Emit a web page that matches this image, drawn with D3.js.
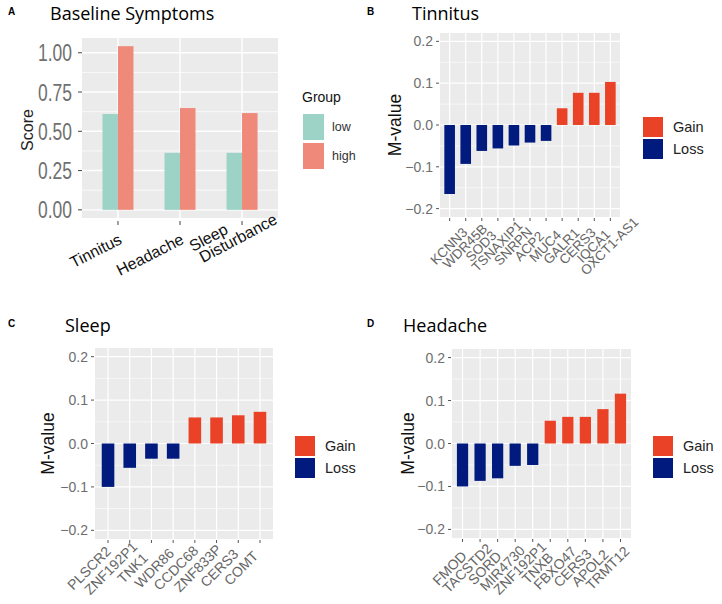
<!DOCTYPE html>
<html>
<head>
<meta charset="utf-8">
<script src="https://cdn.jsdelivr.net/npm/d3@7"></script>
<style>
  body { margin: 0; background: #fff; }
  svg { display: block; }
</style>
</head>
<body>
<svg id="chart" width="722" height="604"></svg>
<script>
// ---- data ----
const symptoms = ["Tinnitus", "Headache", "Sleep Disturbance"];
const groups = ["low", "high"];
const lowScores = [0.61, 0.363, 0.363];
const highScores = [1.042, 0.648, 0.616];
const scoreTicks = [0, 0.25, 0.5, 0.75, 1.0];

const tinnitusGenes = ["KCNN3", "WDR45B", "SOD3", "TSNAXIP1", "SNRPN", "ACP2", "MUC4", "GALR1", "CERS3", "IQCA1", "OXCT1-AS1"];
const tinnitusM = [-0.165, -0.093, -0.062, -0.056, -0.049, -0.042, -0.038, 0.040, 0.077, 0.077, 0.103];

const sleepGenes = ["PLSCR2", "ZNF192P1", "TNK1", "WDR86", "CCDC68", "ZNF833P", "CERS3", "COMT"];
const sleepM = [-0.100, -0.056, -0.035, -0.035, 0.060, 0.060, 0.065, 0.073];

const headacheGenes = ["FMOD", "TACSTD2", "SORD", "MIR4730", "ZNF192P1", "TNXB", "FBXO47", "CERS3", "APOL2", "TRMT12"];
const headacheM = [-0.100, -0.087, -0.081, -0.052, -0.050, 0.053, 0.062, 0.062, 0.080, 0.116];

const mTicks = [-0.2, -0.1, 0.0, 0.1, 0.2];
const mMinor = [-0.15, -0.05, 0.05, 0.15];

const groupColor = { low: "#9dd3c7", high: "#ef8a7a" };
const changeColor = { Gain: "#ea4226", Loss: "#001a7e" };

const svg = d3.select("#chart");
const font = "'Liberation Sans', Arial, sans-serif";
const titleFont = "'Open Sans', 'Liberation Sans', sans-serif";

function panelHeader(letter, title, lx, tx, y) {
  svg.append("text")
    .attr("x", lx).attr("y", y - 5)
    .attr("font-family", font).attr("font-weight", "bold")
    .attr("font-size", 10).attr("fill", "#000")
    .text(letter);
  svg.append("text")
    .attr("x", tx).attr("y", y)
    .attr("font-family", titleFont)
    .attr("font-size", 18).attr("fill", "#000")
    .text(title);
}

// ---- panel A ----
(function () {
  const left = 82, right = 278, top = 38, bottom = 218;
  const x = d3.scalePoint().domain(symptoms).range([left, right]).padding(0.58);
  const xg = d3.scaleBand().domain(groups).range([-15.5, 15.5]);
  const y = d3.scaleLinear().domain([-0.052, 1.094]).range([bottom, top]);
  const g = svg.append("g");

  g.append("rect").attr("x", left).attr("y", top)
    .attr("width", right - left).attr("height", bottom - top).attr("fill", "#ebebeb");

  const minor = scoreTicks.slice(0, -1).map(d => d + 0.125);
  g.selectAll(".minor").data(minor).join("line")
    .attr("x1", left).attr("x2", right)
    .attr("y1", d => y(d)).attr("y2", d => y(d))
    .attr("stroke", "#fff").attr("stroke-width", 0.7);
  g.selectAll(".major").data(scoreTicks).join("line")
    .attr("x1", left).attr("x2", right)
    .attr("y1", d => y(d)).attr("y2", d => y(d))
    .attr("stroke", "#fff").attr("stroke-width", 1.4);
  g.selectAll(".vmajor").data(symptoms).join("line")
    .attr("x1", d => x(d)).attr("x2", d => x(d))
    .attr("y1", top).attr("y2", bottom)
    .attr("stroke", "#fff").attr("stroke-width", 1.4);

  const rows = symptoms.flatMap((s, i) => [
    { s, grp: "low", v: lowScores[i] },
    { s, grp: "high", v: highScores[i] }
  ]);
  g.selectAll(".bar").data(rows).join("rect")
    .attr("x", d => x(d.s) + xg(d.grp))
    .attr("width", xg.bandwidth())
    .attr("y", d => y(d.v))
    .attr("height", d => y(0) - y(d.v))
    .attr("fill", d => groupColor[d.grp]);

  // y axis
  g.selectAll(".yt").data(scoreTicks).join("line")
    .attr("x1", left - 4).attr("x2", left)
    .attr("y1", d => y(d)).attr("y2", d => y(d))
    .attr("stroke", "#444").attr("stroke-width", 1);
  g.selectAll(".yl").data(scoreTicks).join("text")
    .attr("x", left - 10).attr("y", d => y(d) + 8.5)
    .attr("text-anchor", "end")
    .attr("font-family", font).attr("font-size", 24)
    .attr("textLength", 34).attr("lengthAdjust", "spacingAndGlyphs")
    .attr("fill", "#707070")
    .text(d => d3.format(".2f")(d));

  // x axis
  g.selectAll(".xt").data(symptoms).join("line")
    .attr("x1", d => x(d)).attr("x2", d => x(d))
    .attr("y1", bottom + 3).attr("y2", bottom + 7)
    .attr("stroke", "#444");
  symptoms.forEach(s => {
    const parts = s.split(" ");
    if (parts.length === 1) {
      g.append("text")
        .attr("transform", `translate(${x(s) + 5},${bottom + 25}) rotate(-27)`)
        .attr("text-anchor", "end")
        .attr("font-family", font).attr("font-size", 16).attr("fill", "#111")
        .text(s);
    } else {
      g.append("text")
        .attr("transform", `translate(${x(s) - 49},${bottom + 34}) rotate(-28)`)
        .attr("font-family", font).attr("font-size", 16).attr("fill", "#111")
        .text(parts[0]);
      g.append("text")
        .attr("transform", `translate(${x(s) - 39},${bottom + 45}) rotate(-28)`)
        .attr("font-family", font).attr("font-size", 16).attr("fill", "#111")
        .text(parts[1]);
    }
  });

  g.append("text")
    .attr("transform", `translate(33,${(top + bottom) / 2 + 2}) rotate(-90)`)
    .attr("text-anchor", "middle")
    .attr("font-family", font).attr("font-size", 16).attr("fill", "#222")
    .text("Score");

  // legend
  g.append("text").attr("x", 302).attr("y", 102)
    .attr("font-family", font).attr("font-size", 14).attr("fill", "#111")
    .text("Group");
  groups.forEach((grp, i) => {
    g.append("rect").attr("x", 303).attr("y", 114 + i * 29)
      .attr("width", 21).attr("height", 26).attr("fill", groupColor[grp]);
    g.append("text").attr("x", 332).attr("y", 131 + i * 29)
      .attr("font-family", font).attr("font-size", 12.5).attr("fill", "#333")
      .text(grp);
  });

  panelHeader("A", "Baseline Symptoms", 8, 50, 20);
})();

// ---- M-value panels ----
function drawMPanel(cfg) {
  const { left, right, top, bottom, genes, values } = cfg;
  const x = d3.scalePoint().domain(genes).range([left, right]).padding(0.6);
  const y = d3.scaleLinear().domain([-0.22, 0.22]).range([bottom, top]);
  const bw = x.step() * cfg.barWidth;
  const g = svg.append("g");

  g.append("rect").attr("x", left).attr("y", top)
    .attr("width", right - left).attr("height", bottom - top).attr("fill", "#ebebeb");
  g.selectAll(".minor").data(mMinor).join("line")
    .attr("x1", left).attr("x2", right)
    .attr("y1", d => y(d)).attr("y2", d => y(d))
    .attr("stroke", "#fff").attr("stroke-width", 0.6);
  g.selectAll(".major").data(mTicks).join("line")
    .attr("x1", left).attr("x2", right)
    .attr("y1", d => y(d)).attr("y2", d => y(d))
    .attr("stroke", "#fff").attr("stroke-width", 1.2);
  g.selectAll(".vmajor").data(genes).join("line")
    .attr("x1", d => x(d)).attr("x2", d => x(d))
    .attr("y1", top).attr("y2", bottom)
    .attr("stroke", "#fff").attr("stroke-width", 1.2);

  const rows = genes.map((gene, i) => ({ gene, v: values[i], c: values[i] >= 0 ? "Gain" : "Loss" }));
  g.selectAll(".bar").data(rows).join("rect")
    .attr("x", d => x(d.gene) - bw / 2)
    .attr("width", bw)
    .attr("y", d => y(Math.max(0, d.v)))
    .attr("height", d => Math.abs(y(d.v) - y(0)))
    .attr("fill", d => changeColor[d.c]);

  // y axis
  g.selectAll(".yt").data(mTicks).join("line")
    .attr("x1", left - 4).attr("x2", left - 1)
    .attr("y1", d => y(d)).attr("y2", d => y(d))
    .attr("stroke", "#555");
  g.selectAll(".yl").data(mTicks).join("text")
    .attr("x", left - 7).attr("y", d => y(d) + 5)
    .attr("text-anchor", "end")
    .attr("font-family", font).attr("font-size", 14).attr("fill", "#6e6e6e")
    .text(d => d3.format(".1f")(d));

  // x axis - labels hang centred a little off their ticks, as in the figure
  g.selectAll(".xt").data(genes).join("line")
    .attr("x1", d => x(d)).attr("x2", d => x(d))
    .attr("y1", bottom + 1).attr("y2", bottom + 4)
    .attr("stroke", "#555");
  g.selectAll(".xl").data(genes).join("text")
    .attr("transform", d => `translate(${x(d) + cfg.labelDx},${cfg.labelCy}) rotate(-45)`)
    .attr("text-anchor", "middle")
    .attr("dy", "0.36em")
    .attr("font-family", font).attr("font-size", cfg.labelSize).attr("fill", "#666")
    .text(d => d);

  g.append("text")
    .attr("transform", `translate(${cfg.titleX},${(top + bottom) / 2}) rotate(-90)`)
    .attr("text-anchor", "middle")
    .attr("font-family", font).attr("font-size", 17.5).attr("fill", "#111")
    .text("M-value");

  // legend
  ["Gain", "Loss"].forEach((k, i) => {
    g.append("rect").attr("x", cfg.legendX).attr("y", cfg.legendY + i * 22)
      .attr("width", 20).attr("height", 20).attr("fill", changeColor[k]);
    g.append("text").attr("x", cfg.legendX + 30).attr("y", cfg.legendY + 15 + i * 22)
      .attr("font-family", font).attr("font-size", 14.5).attr("fill", "#222")
      .text(k);
  });

  panelHeader(cfg.letter, cfg.title, cfg.letterX, cfg.titleTextX, cfg.headerY);
}

drawMPanel({
  left: 440, right: 620, top: 33, bottom: 217,
  genes: tinnitusGenes, values: tinnitusM, barWidth: 0.66, labelSize: 13.5,
  labelDx: -1, labelCy: 246,
  titleX: 401, legendX: 643, legendY: 117,
  letter: "B", title: "Tinnitus", letterX: 367, titleTextX: 412, headerY: 20
});

drawMPanel({
  left: 95, right: 273, top: 348, bottom: 539,
  genes: sleepGenes, values: sleepM, barWidth: 0.58, labelSize: 14,
  labelDx: -19, labelCy: 568,
  titleX: 54, legendX: 295, legendY: 436,
  letter: "C", title: "Sleep", letterX: 8, titleTextX: 65, headerY: 332
});

drawMPanel({
  left: 452, right: 631, top: 349, bottom: 538,
  genes: headacheGenes, values: headacheM, barWidth: 0.64, labelSize: 14,
  labelDx: -13, labelCy: 568,
  titleX: 414, legendX: 653, legendY: 436,
  letter: "D", title: "Headache", letterX: 367, titleTextX: 403, headerY: 332
});
</script>
</body>
</html>
